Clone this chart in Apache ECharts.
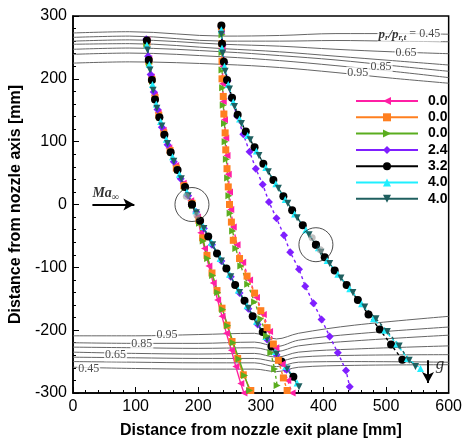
<!DOCTYPE html>
<html><head><meta charset="utf-8">
<script src="https://cdn.jsdelivr.net/npm/echarts@6/dist/echarts.min.js"></script>
<style>html,body{margin:0;padding:0;background:#fff}#c{width:465px;height:444px}</style>
</head><body><div id="c"></div>
<script>
// ---------- data ----------
const seriesKeys   = ['m00','o00','g00','p24','k32','c40','t40'];
const legendLabels = ['0.0','0.0','0.0','2.4','3.2','4.0','4.0'];

// left (solid) branches
const m00A = [[118,262],[121,232],[125,203],[130,174],[136,146],[144,118],[153,90],[164,62],[176,34],[188,6],[199,-20],[204,-45],[210,-70],[217,-98],[224,-125],[231,-152],[238,-178],[245,-205],[253,-232],[260,-258],[268,-285],[273,-300]];
const o00A = [[118,258],[121,228],[126,199],[131,170],[137,142],[145,114],[155,86],[165,58],[177,30],[190,2],[201,-25],[207,-53],[214,-81],[222,-109],[230,-137],[238,-165],[246,-192],[254,-218],[263,-245],[272,-271],[284,-296]];
const g00A = [[118,255],[122,225],[127,196],[132,167],[139,139],[147,111],[157,83],[167,55],[179,27],[191,-2],[202,-30],[208,-58],[215,-86],[223,-113],[231,-140],[239,-167],[247,-193],[256,-220],[265,-246],[274,-272],[282,-296]];
const p24A = [[117,263],[120,236],[124,207],[129,179],[135,151],[142,123],[151,95],[161,68],[172,41],[184,14],[197,-12],[209,-38],[222,-64],[237,-90],[252,-115],[266,-141],[280,-166],[295,-191],[310,-215],[325,-239],[341,-263]];
const k32A = [[118,261],[121,230],[126,198],[131,167],[138,139],[146,111],[156,83],[167,55],[179,28],[190,0],[203,-26],[216,-51],[230,-78],[245,-102],[259,-128],[274,-153],[287,-178],[303,-203],[317,-226],[333,-250],[352,-274]];
const c40A = [[118,254],[122,223],[127,191],[133,160],[140,132],[149,104],[159,76],[170,48],[182,20],[196,-10],[208,-35],[221,-60],[235,-86],[250,-111],[264,-136],[278,-161],[293,-186],[308,-210],[323,-234],[340,-258],[358,-284]];
const t40A = [[119,246],[123,214],[128,182],[134,153],[142,125],[151,97],[161,69],[173,41],[184,14],[197,-13],[209,-38],[223,-64],[237,-90],[252,-115],[266,-140],[280,-165],[295,-190],[310,-214],[325,-238],[342,-262],[361,-290]];

// right (dotted) branches
const m00B = [[237,276],[238,248],[239,220],[239,192],[240,164],[242,135],[244,106],[246,78],[248,48],[250,20],[252,-8],[256,-36],[262,-64],[271,-92],[282,-120],[293,-148],[304,-175],[314,-202],[324,-228],[334,-254],[343,-280],[350,-300]];
const o00B = [[237,283],[238,256],[238,228],[238,200],[240,172],[241,144],[243,114],[244,87],[246,57],[248,28],[250,0],[253,-28],[256,-57],[266,-86],[278,-114],[290,-141],[300,-169],[310,-196],[320,-222],[328,-248],[336,-276],[342,-296]];
const g00B = [[238,270],[238,242],[238,214],[239,186],[240,158],[242,129],[243,100],[245,72],[247,42],[249,14],[251,-14],[255,-42],[260,-70],[268,-98],[279,-127],[290,-155],[300,-182],[309,-209],[316,-236],[322,-262],[326,-288]];
const p24B = [[237,283],[239,254],[242,226],[247,197],[253,169],[262,141],[272,112],[282,84],[292,57],[303,32],[313,4],[325,-22],[337,-49],[347,-76],[361,-103],[371,-130],[384,-157],[397,-183],[410,-210],[423,-236],[436,-264],[442,-290]];
const k32B = [[237,285],[238,256],[241,227],[246,198],[254,170],[263,143],[276,116],[290,91],[304,65],[320,39],[336,13],[350,-9],[367,-33],[388,-64],[402,-84],[418,-105],[437,-128],[455,-152],[472,-175],[490,-199],[508,-223],[526,-247]];
const c40B = [[237,278],[238,249],[242,220],[248,191],[256,163],[266,136],[279,110],[293,85],[308,59],[324,33],[339,8],[354,-15],[372,-40],[392,-69],[406,-89],[423,-111],[442,-134],[461,-158],[480,-182],[498,-200],[517,-222],[534,-245],[555,-261]];
const t40B = [[237,271],[239,241],[243,212],[250,184],[258,156],[269,129],[283,103],[297,78],[312,52],[328,26],[343,2],[358,-21],[377,-48],[396,-76],[410,-94],[428,-117],[447,-140],[466,-163],[484,-182],[502,-202],[521,-225],[537,-248],[547,-258]];

const greyPts = [[181,13],[198,-17],[382,-53],[395,-72]];
const circleCenters = [[190,0],[388,-64]];

// pressure-ratio contour lines (top group and bottom group)
const cTopX = [0, 90, 240, 330, 420, 510, 600];
const cTop1 = [273, 275, 268, 269, 272, 272, 271];
const cTop2 = [266, 268, 260, 260, 261, 260, 259];
const cTop3 = [260, 262, 255, 252, 247, 243, 240];
const cTop4 = [255, 256, 248, 243, 236, 229, 222];
const cTop5 = [247, 249, 243, 237, 230, 221, 212];
const cTop6 = [239, 241, 235, 229, 221, 212, 202];
const cTop7 = [225, 227, 223, 218, 210, 201, 193];
const cBotX = [0, 100, 200, 290, 325, 360, 450, 600];
const cBot1 = [-209, -209, -207, -205, -214, -205, -192, -178];
const cBot2 = [-220, -221, -221, -219, -226, -216, -206, -195];
const cBot3 = [-227, -228, -229, -228, -234, -225, -217, -208];
const cBot4 = [-235, -237, -238, -237, -243, -235, -230, -225];
const cBot5 = [-243, -244, -245, -245, -250, -243, -240, -239];
const cBot6 = [-250, -251, -252, -252, -258, -251, -250, -251];
const cBot7 = [-259, -261, -262, -262, -266, -259, -256, -255];

const contourLabelText = ['0.65', '0.85', '0.95', '0.95', '0.85', '0.65', '0.45'];
const contourLabelPos  = [[532,241], [492,219], [455,210], [150,-208], [110,-222], [68,-240], [25,-262]];

// ---------- styles ----------
const colors    = ['#ff1fa5','#ff7f1f','#5aad1f','#7f1fff','#000000','#1fefff','#1f5f5f'];
const symbols   = ['triangle','rect','triangle','diamond','circle','triangle','triangle'];
const rotations = [90, 0, -90, 0, 0, 0, 180];
const sizes     = [7, 7, 7, 8, 8, 7, 7];
const branchA = [m00A,o00A,g00A,p24A,k32A,c40A,t40A];
const branchB = [m00B,o00B,g00B,p24B,k32B,c40B,t40B];

const zip = (xs, ys) => xs.map((x, i) => [x, ys[i]]);

const series = [];
[cTop1,cTop2,cTop3,cTop4,cTop5,cTop6,cTop7].forEach(ys => series.push({
  type:'line', data: zip(cTopX, ys), symbol:'none', smooth:0.35, silent:true, z:1,
  lineStyle:{color:'#666', width:1}
}));
[cBot1,cBot2,cBot3,cBot4,cBot5,cBot6,cBot7].forEach(ys => series.push({
  type:'line', data: zip(cBotX, ys), symbol:'none', smooth:0.35, silent:true, z:1,
  lineStyle:{color:'#666', width:1}
}));

const serif = 'Liberation Serif';
series.push({
  type:'scatter', silent:true, z:2, symbolSize:1, itemStyle:{color:'rgba(0,0,0,0)'},
  data: contourLabelPos.map((p, i) => ({value:p, name:contourLabelText[i]})),
  label:{show:true, position:'inside', formatter:'{b}', fontFamily:serif, fontSize:12, color:'#222',
         backgroundColor:'#fff', padding:[0,1]}
});
// p_r / p_r,t label
series.push({
  type:'scatter', silent:true, z:2, symbolSize:1, itemStyle:{color:'rgba(0,0,0,0)'},
  data:[{value:[588,271]}],
  label:{show:true, position:'inside', align:'right', backgroundColor:'#fff', padding:[0,1],
    formatter:'{p|p}{s|r}{p|/p}{s|r,t}{n| = 0.45}',
    rich:{
      p:{fontFamily:serif, fontStyle:'italic', fontWeight:'bold', fontSize:13, color:'#000'},
      s:{fontFamily:serif, fontStyle:'italic', fontWeight:'bold', fontSize:9, color:'#000', padding:[6,0,0,0]},
      n:{fontFamily:serif, fontSize:12, color:'#222'}
    }}
});

// data series: solid branch first (legend takes its style), dotted branch second
seriesKeys.forEach((k, i) => {
  series.push({
    type:'line', name:k, symbol:symbols[i], symbolRotate:rotations[i], symbolSize:sizes[i],
    showSymbol:true, silent:true, z:3, itemStyle:{color:colors[i]},
    data:branchA[i], lineStyle:{color:colors[i], width:1.4, type:'solid'}
  });
});
seriesKeys.forEach((k, i) => {
  series.push({
    type:'line', name:k, symbol:symbols[i], symbolRotate:rotations[i], symbolSize:sizes[i],
    showSymbol:true, silent:true, z:3, itemStyle:{color:colors[i]},
    data:branchB[i], lineStyle:{color:colors[i], width:1.4, type:[3,3]}
  });
});

// highlighted points and circles
series.push({
  type:'scatter', silent:true, z:4, symbol:'circle', symbolSize:7,
  itemStyle:{color:'rgba(150,150,150,0.75)'}, data:greyPts
});
series.push({
  type:'scatter', silent:true, z:5, symbol:'circle', symbolSize:34,
  itemStyle:{color:'rgba(0,0,0,0)', borderColor:'#222', borderWidth:1}, data:circleCenters
});
series.push({
  type:'scatter', silent:true, z:5, symbol:'circle', symbolSize:8,
  itemStyle:{color:'#000'}, data:circleCenters
});

// annotations: Ma_inf arrow and g arrow
series.push({
  type:'scatter', silent:true, z:5, symbolSize:1, itemStyle:{color:'rgba(0,0,0,0)'},
  data:[
    {value:[31,17], label:{show:true, position:'inside', align:'left', formatter:'{a|Ma}{b|∞}',
      rich:{a:{fontFamily:serif, fontStyle:'italic', fontWeight:'bold', fontSize:14, color:'#000'},
            b:{fontFamily:serif, fontWeight:'bold', fontSize:10, color:'#000', padding:[7,0,0,0]}}}},
    {value:[586,-254], label:{show:true, position:'inside', formatter:'g',
      fontFamily:serif, fontStyle:'italic', fontSize:17, color:'#000'}}
  ],
  markLine:{
    silent:true, symbol:['none','arrow'], symbolSize:[9,11], animation:false,
    label:{show:false},
    lineStyle:{color:'#000', width:2, type:'solid'},
    data:[
      [{coord:[31,0]},{coord:[98,0]}],
      [{coord:[567,-248]},{coord:[567,-284]}]
    ]
  }
});

const axisCommon = {
  type:'value', nameLocation:'middle',
  nameTextStyle:{fontFamily:'Liberation Sans', fontWeight:'bold', fontSize:16, color:'#000'},
  axisLine:{onZero:false, lineStyle:{color:'#000', width:1.5}},
  axisTick:{inside:true, length:6, lineStyle:{color:'#000', width:1}},
  minorTick:{show:true, splitNumber:5, length:3, lineStyle:{color:'#000', width:1}},
  axisLabel:{fontFamily:'Liberation Sans', fontSize:16, color:'#000', margin:6},
  splitLine:{show:false}
};

const chart = echarts.init(document.getElementById('c'));
chart.setOption({
  animation:false,
  backgroundColor:'#fff',
  grid:{left:73, right:12, top:16, bottom:50, show:true, borderColor:'#000', borderWidth:1.5},
  xAxis:Object.assign({}, axisCommon, {min:0, max:600, interval:100,
    name:'Distance from nozzle exit plane [mm]', nameGap:30}),
  yAxis:Object.assign({}, axisCommon, {min:-300, max:300, interval:100,
    name:'Distance from nozzle axis [mm]', nameGap:47}),
  legend:{
    orient:'vertical', left:350, top:89, itemWidth:62, itemHeight:10, itemGap:2.3,
    selectedMode:false, data:seriesKeys,
    formatter:name => legendLabels[seriesKeys.indexOf(name)],
    textStyle:{fontFamily:'Liberation Sans', fontWeight:'bold', fontSize:14, color:'#000', padding:[0,0,0,5]}
  },
  series
});
</script></body></html>
